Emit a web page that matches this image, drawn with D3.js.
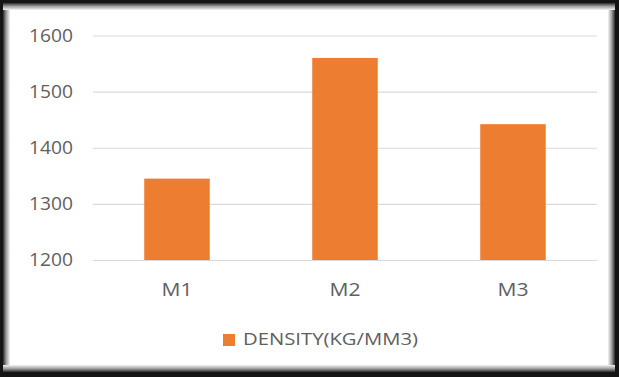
<!DOCTYPE html>
<html>
<head>
<meta charset="utf-8">
<script src="https://cdn.jsdelivr.net/npm/d3@7"></script>
<style>
  html, body { margin: 0; padding: 0; background: #141414; }
  svg { display: block; }
</style>
</head>
<body>
<svg id="chart" width="619" height="377"></svg>
<script>
// Chart data
const categories = ["M1", "M2", "M3"];
const densityValues = [1345, 1560, 1442];
const yTicks = [1200, 1300, 1400, 1500, 1600];
const seriesName = "DENSITY(KG/MM3)";

const W = 619, H = 377;
const svg = d3.select("#chart");

// Frame: dark outer edge with a soft grey bevel around the white chart area
const defs = svg.append("defs");
const mkGrad = (id, x1, y1, x2, y2) => {
  const g = defs.append("linearGradient").attr("id", id)
    .attr("x1", x1).attr("y1", y1).attr("x2", x2).attr("y2", y2);
  g.append("stop").attr("offset", "0%").attr("stop-color", "#2a2a2a");
  g.append("stop").attr("offset", "45%").attr("stop-color", "#9a9a9a");
  g.append("stop").attr("offset", "100%").attr("stop-color", "#f4f4f4");
};
mkGrad("gL", "0", "0", "1", "0");
mkGrad("gR", "1", "0", "0", "0");
mkGrad("gT", "0", "0", "0", "1");
mkGrad("gB", "0", "1", "0", "0");

svg.append("rect").attr("width", W).attr("height", H).attr("fill", "#141414");
const inner = { x: 3, y: 3, w: W - 7, h: H - 8 };
svg.append("rect").attr("x", inner.x).attr("y", inner.y)
  .attr("width", inner.w).attr("height", inner.h).attr("fill", "#ffffff");
const bev = 7;
svg.append("rect").attr("x", inner.x).attr("y", inner.y).attr("width", bev).attr("height", inner.h).attr("fill", "url(#gL)");
svg.append("rect").attr("x", inner.x + inner.w - bev).attr("y", inner.y).attr("width", bev).attr("height", inner.h).attr("fill", "url(#gR)");
svg.append("rect").attr("x", inner.x).attr("y", inner.y).attr("width", inner.w).attr("height", bev).attr("fill", "url(#gT)");
svg.append("rect").attr("x", inner.x).attr("y", inner.y + inner.h - bev).attr("width", inner.w).attr("height", bev).attr("fill", "url(#gB)");

// Plot area
const plot = { left: 93, right: 597, top: 35.5, bottom: 260 };

const x = d3.scaleBand()
  .domain(categories)
  .range([plot.left, plot.right])
  .paddingInner(0.61)
  .paddingOuter(0.305);

const y = d3.scaleLinear()
  .domain([1200, 1600])
  .range([plot.bottom, plot.top]);

const textColor = "#606060";
const font = "'Open Sans', 'Noto Sans', sans-serif";

// Horizontal gridlines + y tick labels
const yAxis = d3.axisLeft(y).tickValues(yTicks)
  .tickSize(-(plot.right - plot.left)).tickPadding(20).tickFormat(d3.format("d"));
const gy = svg.append("g").attr("transform", `translate(${plot.left},0)`).call(yAxis);
gy.select(".domain").remove();
gy.selectAll(".tick line").attr("stroke", "#d9d9d9").attr("stroke-width", 1.2);
gy.selectAll(".tick text")
  .attr("fill", textColor).style("font-family", font).style("font-size", "18px")
  .attr("textLength", 44).attr("lengthAdjust", "spacingAndGlyphs");

// Bars
svg.append("g").selectAll("rect")
  .data(categories.map((c, i) => ({ c, v: densityValues[i] })))
  .join("rect")
  .attr("x", d => x(d.c))
  .attr("y", d => y(d.v))
  .attr("width", x.bandwidth())
  .attr("height", d => y(1200) - y(d.v))
  .attr("fill", "#ED7D31");

// Category labels
const xAxis = d3.axisBottom(x).tickSize(0).tickPadding(23);
const gx = svg.append("g").attr("transform", `translate(0,${plot.bottom})`).call(xAxis);
gx.select(".domain").remove();
gx.selectAll(".tick text")
  .attr("fill", textColor).style("font-family", font).style("font-size", "18px")
  .attr("textLength", 31).attr("lengthAdjust", "spacingAndGlyphs");

// Legend
const lg = svg.append("g").attr("transform", "translate(223,334)");
lg.append("rect").attr("width", 12).attr("height", 12).attr("fill", "#ED7D31");
lg.append("text").attr("x", 20).attr("y", 5).attr("dy", "0.35em")
  .attr("fill", textColor).style("font-family", font).style("font-size", "17px")
  .attr("textLength", 175).attr("lengthAdjust", "spacingAndGlyphs")
  .text(seriesName);
</script>
</body>
</html>
